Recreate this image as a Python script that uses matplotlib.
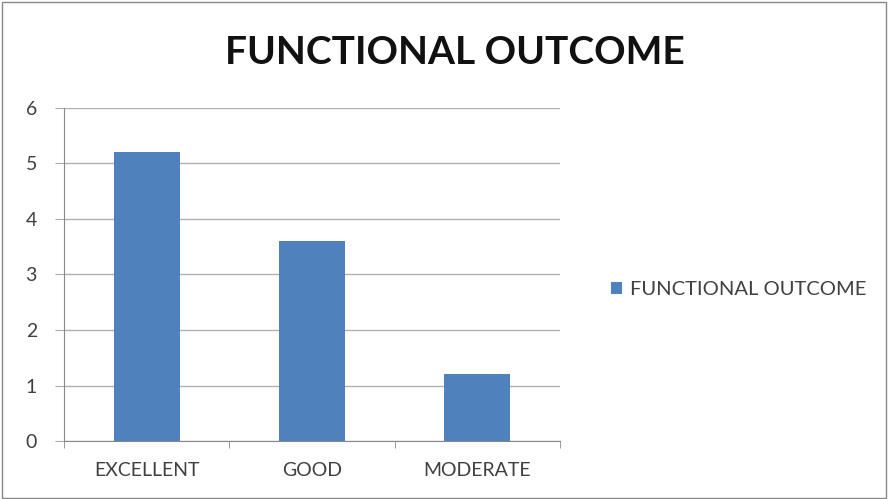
import matplotlib.pyplot as plt
from matplotlib.patches import Rectangle
import numpy as np

categories = ['EXCELLENT', 'GOOD', 'MODERATE']
values = [5.2, 3.6, 1.2]
series_name = 'FUNCTIONAL OUTCOME'
title = 'FUNCTIONAL OUTCOME'

plt.rcParams['font.family'] = ['Lato', 'DejaVu Sans']

fig = plt.figure(figsize=(8.89, 4.99), dpi=100)
ax = fig.add_axes([0.072, 0.116, 0.558, 0.668])

x = np.arange(len(categories))
ax.bar(x, values, width=0.4, color='#4f81bd', label=series_name, zorder=3)

ax.set_xlim(-0.5, len(categories) - 0.5)
ax.set_ylim(0, 6)
ax.set_yticks(range(0, 7))
ax.yaxis.grid(True, color='#b0b0b0', linewidth=1, zorder=0)
ax.set_xticks(x)
ax.set_xticklabels(categories)
ax.set_xticks(np.arange(-0.5, len(categories), 1), minor=True)
ax.tick_params(axis='x', which='major', length=0, pad=15, labelsize=14, colors='#404040')
ax.tick_params(axis='x', which='minor', length=5, color='#888888')
ax.tick_params(axis='y', length=6.5, color='#aaaaaa', labelsize=14, labelcolor='#404040', pad=13)

for s in ['top', 'right']:
    ax.spines[s].set_visible(False)
ax.spines['left'].set_color('#888888')
ax.spines['bottom'].set_color('#888888')

fig.text(0.512, 0.894, title, ha='center', va='center', fontsize=28, fontweight='bold', color='#111111')

leg = fig.legend(loc='center left', bbox_to_anchor=(0.667, 0.419), frameon=False,
                 handlelength=0.55, handleheight=0.55, handletextpad=0.4, fontsize=14.5)
for t in leg.get_texts():
    t.set_color('#404040')

fig.patches.append(Rectangle((0.002, 0.003), 0.995, 0.993, transform=fig.transFigure,
                             fill=False, edgecolor='#888888', linewidth=1))

fig.savefig('out.png', dpi=100)
